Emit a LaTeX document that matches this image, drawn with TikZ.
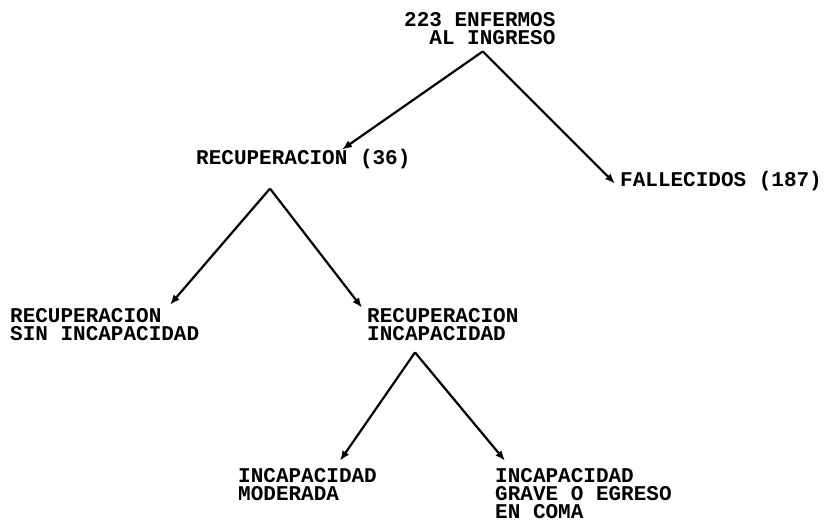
\documentclass[tikz,border=0pt]{standalone}
\usepackage{fontspec}
\setmonofont{Liberation Mono}
\usepackage{tikz}
\usetikzlibrary{arrows.meta,calc}

\begin{document}
\begin{tikzpicture}[
  x=1pt,y=-1pt,
  font=\ttfamily\bfseries\fontsize{21}{18}\selectfont,
  >=Latex,
  outcome/.style={inner sep=0pt,anchor=base west},
  branch/.style={-{Latex[length=10pt,width=8pt]},line width=2.2pt}
]
  \useasboundingbox (0,0) rectangle (825,521);

  \node[outcome,align=right] (ingreso) at (404,45)
    {223 ENFERMOS\\AL INGRESO};
  \node[outcome] (recup) at (196,165) {RECUPERACION (36)};
  \node[outcome] (fallec) at (620,187) {FALLECIDOS (187)};
  \node[outcome,align=left] (sinincap) at (10,341)
    {RECUPERACION\\SIN INCAPACIDAD};
  \node[outcome,align=left] (incap) at (367,341)
    {RECUPERACION\\INCAPACIDAD};
  \node[outcome,align=left] (moder) at (238,500)
    {INCAPACIDAD\\MODERADA};
  \node[outcome,align=left] (grave) at (495,518)
    {INCAPACIDAD\\GRAVE O EGRESO\\EN COMA};

  % forks below each parent
  \coordinate (fork1) at ($(ingreso.south)+(3,6)$);
  \coordinate (fork2) at ($(recup.south west)+(74,19)$);
  \coordinate (fork3) at ($(incap.south west)+(48,11)$);

  \draw[branch] (fork1) -- ($(recup.north west)+(146,0)$);
  \draw[branch] (fork1) -- ($(fallec.west)+(-5,2)$);
  \draw[branch] (fork2) -- ($(sinincap.north west)+(160,-4)$);
  \draw[branch] (fork2) -- ($(incap.north west)+(-5,-1)$);
  \draw[branch] (fork3) -- ($(moder.north west)+(102,-7)$);
  \draw[branch] (fork3) -- ($(grave.north west)+(10,-7)$);
\end{tikzpicture}
\end{document}
